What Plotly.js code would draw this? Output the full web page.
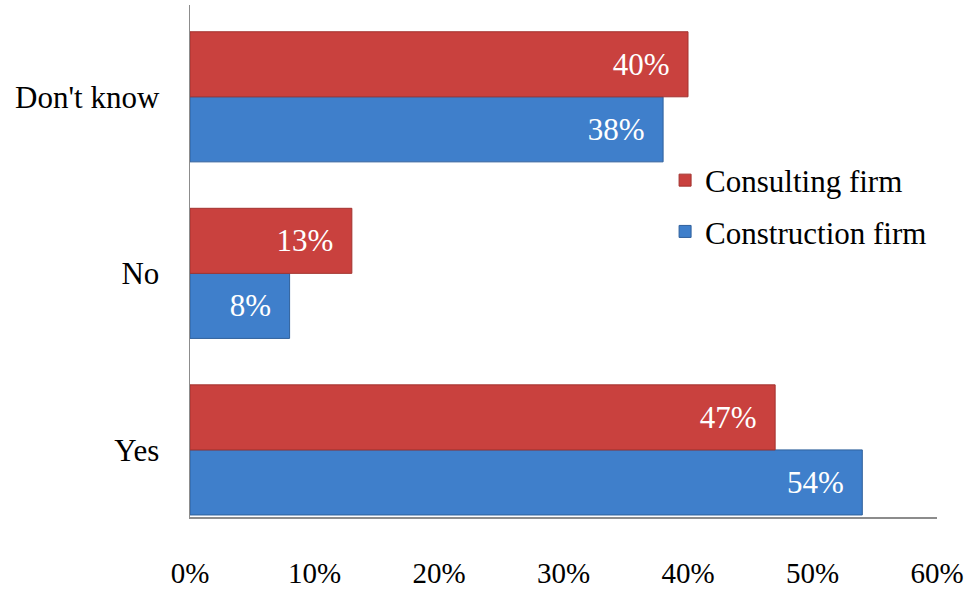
<!DOCTYPE html>
<html>
<head>
<meta charset="utf-8">
<script src="https://cdn.plot.ly/plotly-3.0.1.min.js"></script>
<style>html,body{margin:0;padding:0;background:#fff;}#chart{width:969px;height:590px;}</style>
</head>
<body>
<div id="chart"></div>
<script>
const categories = ["Yes", "No", "Don't know"];
const constructionFirm = [0.54, 0.08, 0.38];
const consultingFirm = [0.47, 0.13, 0.40];
const tickVals = [0, 0.1, 0.2, 0.3, 0.4, 0.5, 0.6];
const tickText = ["0%", "10%", "20%", "30%", "40%", "50%", "60%"];

const serif = "'Liberation Serif', 'Times New Roman', serif";
const pad = "\u00a0\u00a0";

const traces = [
  {
    type: "bar", orientation: "h", name: "Construction firm", legendgroup: "b", legendrank: 2,
    y: categories, x: constructionFirm,
    marker: {color: "#3F7FCB", line: {color: "#2F609C", width: 1}},
    text: constructionFirm.map(v => Math.round(v * 100) + "%" + pad),
    textposition: "inside", insidetextanchor: "end",
    textfont: {family: serif, size: 31, color: "#ffffff"},
    hoverinfo: "x+y"
  },
  {
    type: "bar", orientation: "h", name: "Consulting firm", legendgroup: "a", legendrank: 1,
    y: categories, x: consultingFirm,
    marker: {color: "#C9413E", line: {color: "#A3332F", width: 1}},
    text: consultingFirm.map(v => Math.round(v * 100) + "%" + pad),
    textposition: "inside", insidetextanchor: "end",
    textfont: {family: serif, size: 31, color: "#ffffff"},
    hoverinfo: "x+y"
  }
];

const layout = {
  width: 969, height: 590,
  margin: {l: 190, r: 32, t: 5, b: 73},
  paper_bgcolor: "#ffffff", plot_bgcolor: "#ffffff",
  barmode: "group", bargap: 0.263, bargroupgap: 0,
  font: {family: serif, size: 31, color: "#000000"},
  xaxis: {
    range: [0, 0.6], tickvals: tickVals, ticktext: tickText,
    showgrid: false, zeroline: false, showline: true, linecolor: "#8C8C8C", linewidth: 1.5,
    ticks: "", ticklabelstandoff: 30,
    tickfont: {family: serif, size: 29, color: "#000000"}
  },
  yaxis: {
    range: [-0.38, 2.52],
    showgrid: false, zeroline: false, showline: true, linecolor: "#8C8C8C", linewidth: 1.5,
    ticks: "", ticklabelstandoff: 23,
    tickfont: {family: serif, size: 31, color: "#000000"}
  },
  legend: {
    x: 0.636, y: 0.71, xanchor: "left", yanchor: "top",
    traceorder: "grouped", tracegroupgap: 8,
    font: {family: serif, size: 31, color: "#000000"},
    bgcolor: "rgba(0,0,0,0)", itemwidth: 30
  },
  showlegend: true
};

Plotly.newPlot("chart", traces, layout, {staticPlot: true, displayModeBar: false});
</script>
</body>
</html>
